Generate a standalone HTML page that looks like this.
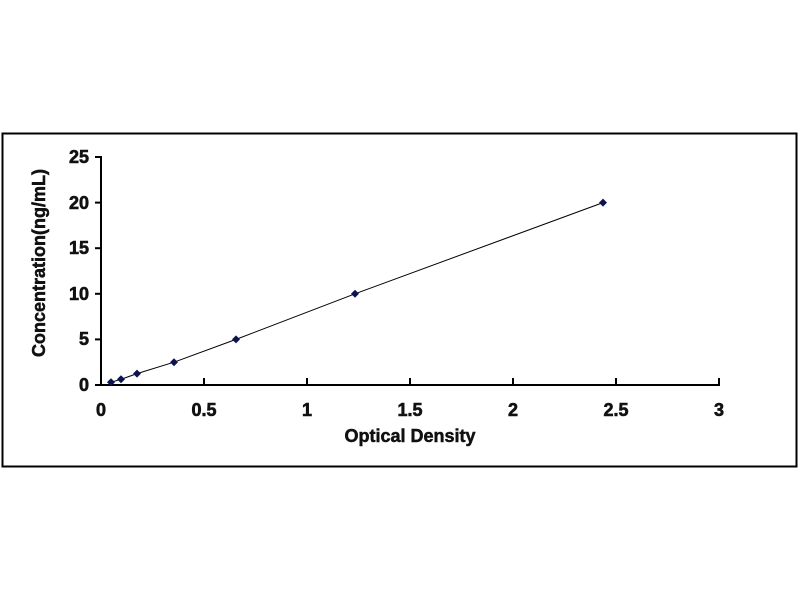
<!DOCTYPE html>
<html><head><style>body{margin:0;background:#fff}</style></head><body>
<svg width="800" height="600" xmlns="http://www.w3.org/2000/svg" font-family="Liberation Sans, Arial, sans-serif" font-weight="bold">
<rect x="0" y="0" width="800" height="600" fill="#fff"/>
<rect x="2.5" y="133.5" width="794" height="333" fill="none" stroke="#000" stroke-width="2"/>
<g stroke="#000" stroke-width="2">
<line x1="101" y1="156" x2="101" y2="385"/>
<line x1="100" y1="385" x2="720" y2="385"/>
<line x1="95" y1="157" x2="101" y2="157"/>
<line x1="95" y1="202.6" x2="101" y2="202.6"/>
<line x1="95" y1="248.2" x2="101" y2="248.2"/>
<line x1="95" y1="293.8" x2="101" y2="293.8"/>
<line x1="95" y1="339.4" x2="101" y2="339.4"/>
<line x1="95" y1="385" x2="101" y2="385"/>
<line x1="204" y1="378" x2="204" y2="385"/>
<line x1="307" y1="378" x2="307" y2="385"/>
<line x1="410" y1="378" x2="410" y2="385"/>
<line x1="513" y1="378" x2="513" y2="385"/>
<line x1="616" y1="378" x2="616" y2="385"/>
<line x1="719" y1="378" x2="719" y2="385"/>
</g>
<g font-size="18" text-anchor="end" fill="#111" stroke="#111" stroke-width="0.6">
<text x="89" y="163">25</text><text x="89" y="209">20</text><text x="89" y="254">15</text>
<text x="89" y="300">10</text><text x="89" y="345">5</text><text x="89" y="391">0</text>
</g>
<g font-size="18" text-anchor="middle" fill="#111" stroke="#111" stroke-width="0.6">
<text x="101" y="416">0</text><text x="204" y="416">0.5</text><text x="307" y="416">1</text>
<text x="410" y="416">1.5</text><text x="513" y="416">2</text><text x="616" y="416">2.5</text><text x="719" y="416">3</text>
</g>
<text x="410" y="442" font-size="18" text-anchor="middle" fill="#111" stroke="#111" stroke-width="0.5">Optical Density</text>
<text transform="translate(45,263) rotate(-90)" font-size="18" text-anchor="middle" fill="#111" stroke="#111" stroke-width="0.5">Concentration(ng/mL)</text>
<polyline fill="none" stroke="#000" stroke-width="1" points="111,382.2 121,379.3 137,373.6 174,362.2 236,339.4 355,293.8 603,202.6"/>
<g fill="#0a1450">
<path d="M111,378.2 l4,4 l-4,4 l-4,-4z"/>
<path d="M121,375.3 l4,4 l-4,4 l-4,-4z"/>
<path d="M137,369.6 l4,4 l-4,4 l-4,-4z"/>
<path d="M174,358.2 l4,4 l-4,4 l-4,-4z"/>
<path d="M236,335.4 l4,4 l-4,4 l-4,-4z"/>
<path d="M355,289.8 l4,4 l-4,4 l-4,-4z"/>
<path d="M603,198.6 l4,4 l-4,4 l-4,-4z"/>
</g>
</svg>
</body></html>
